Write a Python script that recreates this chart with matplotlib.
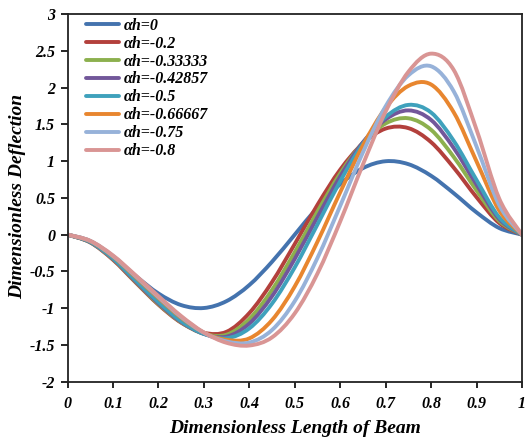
import numpy as np
import matplotlib
matplotlib.use("Agg")
import matplotlib.pyplot as plt
from matplotlib.path import Path
from matplotlib.patches import PathPatch
from matplotlib.lines import Line2D

plt.rcParams['axes.unicode_minus'] = False
plt.rcParams['font.family'] = ['Liberation Serif', 'DejaVu Serif']

# ---- data ----
x = [0.00, 0.05, 0.10, 0.15, 0.20, 0.25, 0.30, 0.35, 0.40, 0.45, 0.50,
     0.55, 0.60, 0.65, 0.70, 0.75, 0.80, 0.85, 0.90, 0.95, 1.00]

labels = ["αh=0", "αh=-0.2", "αh=-0.33333", "αh=-0.42857",
          "αh=-0.5", "αh=-0.66667", "αh=-0.75", "αh=-0.8"]

y_0 = [0, -0.089, -0.302, -0.562, -0.800, -0.958, -0.998, -0.904, -0.686, -0.369, 0.000,
       0.369, 0.686, 0.904, 0.998, 0.958, 0.800, 0.562, 0.302, 0.089, 0]
y_02 = [0, -0.106, -0.342, -0.651, -0.952, -1.197, -1.335, -1.321, -1.067, -0.645, -0.128,
        0.405, 0.883, 1.241, 1.442, 1.448, 1.257, 0.909, 0.509, 0.157, 0]
y_033 = [0, -0.104, -0.334, -0.642, -0.943, -1.192, -1.348, -1.361, -1.148, -0.752, -0.239,
         0.314, 0.832, 1.250, 1.512, 1.582, 1.425, 1.054, 0.601, 0.185, 0]
y_043 = [0, -0.102, -0.328, -0.633, -0.932, -1.186, -1.350, -1.387, -1.210, -0.838, -0.330,
         0.239, 0.791, 1.255, 1.567, 1.689, 1.559, 1.176, 0.679, 0.211, 0]
y_05 = [0, -0.099, -0.321, -0.621, -0.917, -1.177, -1.349, -1.409, -1.275, -0.938, -0.445,
        0.138, 0.726, 1.236, 1.600, 1.764, 1.660, 1.273, 0.742, 0.234, 0]
y_067 = [0, -0.089, -0.296, -0.577, -0.861, -1.129, -1.332, -1.431, -1.411, -1.162, -0.704,
         -0.096, 0.576, 1.214, 1.724, 2.022, 2.041, 1.661, 0.995, 0.326, 0]
y_075 = [0, -0.086, -0.290, -0.565, -0.848, -1.118, -1.334, -1.452, -1.468, -1.297, -0.904,
         -0.317, 0.391, 1.118, 1.745, 2.166, 2.289, 1.946, 1.198, 0.400, 0]
y_08 = [0, -0.084, -0.283, -0.554, -0.836, -1.107, -1.330, -1.471, -1.508, -1.397, -1.071,
        -0.529, 0.179, 0.954, 1.674, 2.214, 2.461, 2.237, 1.426, 0.488, 0]

series = [y_0, y_02, y_033, y_043, y_05, y_067, y_075, y_08]
colors = ['#4473AE', '#B3403C', '#8CB04E', '#72579A', '#3FA1BC', '#E8862F', '#97B2D9', '#D99594']

xticks = [0, 0.1, 0.2, 0.3, 0.4, 0.5, 0.6, 0.7, 0.8, 0.9, 1]
xtick_labels = ["0", "0.1", "0.2", "0.3", "0.4", "0.5", "0.6", "0.7", "0.8", "0.9", "1"]
yticks = [-2, -1.5, -1, -0.5, 0, 0.5, 1, 1.5, 2, 2.5, 3]
ytick_labels = ["-2", "-1.5", "-1", "-0.5", "0", "0.5", "1", "1.5", "2", "2.5", "3"]


def smooth_path(xs, ys):
    """Excel-style smoothed line: cubic Bezier segments through the data points."""
    pts = np.column_stack([xs, ys]).astype(float)
    n = len(pts)
    verts = [pts[0]]
    codes = [Path.MOVETO]
    for i in range(n - 1):
        p0 = pts[i - 1] if i > 0 else pts[i]
        p1 = pts[i]
        p2 = pts[i + 1]
        p3 = pts[i + 2] if i + 2 < n else pts[i + 1]
        c1 = p1 + (p2 - p0) / 6.0
        c2 = p2 - (p3 - p1) / 6.0
        verts += [c1, c2, p2]
        codes += [Path.CURVE4] * 3
    return Path(verts, codes)


fig = plt.figure(figsize=(5.27, 4.43), dpi=100)
ax = fig.add_axes([67.5 / 527, 1 - 381.7 / 443, 454.5 / 527, 367.7 / 443])

lw = 2.8
handles = []
for ys, c, lab in zip(series, colors, labels):
    patch = PathPatch(smooth_path(x, ys), facecolor='none', edgecolor=c,
                      lw=lw, capstyle='round', joinstyle='round', zorder=2)
    ax.add_patch(patch)
    handles.append(Line2D([], [], color=c, lw=lw, solid_capstyle='round'))

ax.set_xlim(0, 1)
ax.set_ylim(-2, 3)

tick_font = dict(family=['Liberation Serif'], weight='bold', style='italic', size=11.5)
ax.set_xticks(xticks)
ax.set_xticklabels(xtick_labels, fontdict=tick_font)
ax.set_yticks(yticks)
ax.set_yticklabels(ytick_labels, fontdict=tick_font)
ax.tick_params(axis='x', direction='out', length=4, width=1.2, pad=6, colors='black')
ax.tick_params(axis='y', direction='out', length=5, width=1.2, pad=4, colors='black')

for sp in ax.spines.values():
    sp.set_linewidth(1.3)
    sp.set_color('#222222')

label_font = dict(family=['Liberation Serif'], weight='bold', style='italic', size=14)
ax.set_xlabel("Dimensionless Length of Beam", fontdict=label_font, labelpad=6)
ax.set_ylabel("Dimensionless Deflection", fontdict=label_font, labelpad=6)
ax.yaxis.set_label_coords(-0.09, 0.505)

leg = ax.legend(handles, labels, loc='upper left', bbox_to_anchor=(0.04, 0.99),
                frameon=False, borderaxespad=0, borderpad=0,
                handlelength=2.1, handletextpad=0.3, labelspacing=0.12,
                prop=dict(family=['Liberation Serif', 'DejaVu Serif'], weight='bold',
                          style='italic', size=11.5))

fig.savefig("out.png", dpi=100)
